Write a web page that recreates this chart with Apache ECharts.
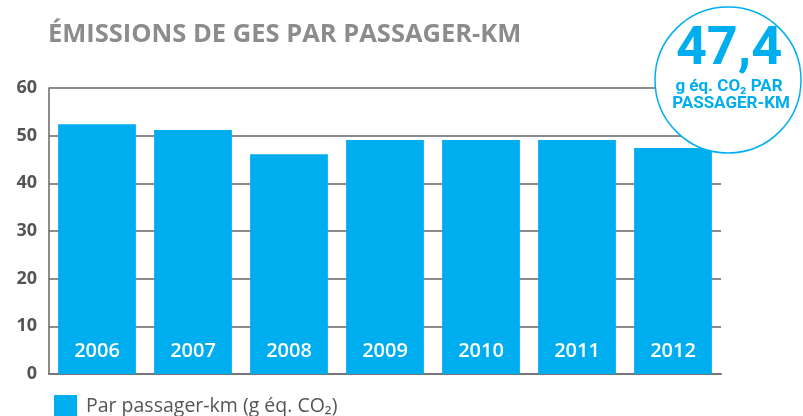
<!DOCTYPE html>
<html>
<head>
<meta charset="utf-8">
<script src="https://cdn.jsdelivr.net/npm/echarts@6/dist/echarts.min.js"></script>
<style>
  html, body { margin: 0; padding: 0; background: #fff; }
  #chart { width: 803px; height: 416px; }
</style>
</head>
<body>
<div id="chart"></div>
<script>
// data
const years = ['2006', '2007', '2008', '2009', '2010', '2011', '2012'];
const perPassengerKm = [52.4, 51.2, 46.1, 49.1, 49.1, 49.1, 47.4];
const yTicks = [0, 10, 20, 30, 40, 50, 60];
const highlight = '47,4';

const blue = '#00AEEF';
const chart = echarts.init(document.getElementById('chart'));

const option = {
    animation: false,
    title: {
        text: 'ÉMISSIONS DE GES PAR PASSAGER-KM',
        left: 43,
        top: 17,
        textStyle: {
            fontFamily: 'Open Sans',
            fontWeight: 'bold',
            fontSize: 25.5,
            color: '#8c8c8c'
        }
    },
    legend: {
        left: 49,
        top: 390,
        itemWidth: 23,
        itemHeight: 22,
        itemGap: 10,
        icon: 'rect',
        textStyle: {
            fontFamily: 'Open Sans',
            fontSize: 19.5,
            color: '#555',
            padding: [0, 0, 0, 4]
        }
    },
    grid: {
        left: 49,
        right: 82,
        top: 88,
        bottom: 42
    },
    xAxis: {
        type: 'category',
        data: years,
        axisLine: { lineStyle: { color: '#777', width: 2 } },
        axisTick: { show: false },
        axisLabel: { show: false }
    },
    yAxis: {
        type: 'value',
        min: yTicks[0],
        max: yTicks[yTicks.length - 1],
        interval: 10,
        axisLine: { show: true, lineStyle: { color: '#666', width: 1.5 } },
        axisTick: { show: false },
        axisLabel: {
            margin: 12,
            fontFamily: 'Open Sans',
            fontWeight: 'bold',
            fontSize: 18,
            color: '#555'
        },
        splitLine: { lineStyle: { color: '#666', width: 1.5 } }
    },
    series: [
        {
            name: 'Par passager-km (g éq. CO₂)',
            type: 'bar',
            data: perPassengerKm,
            barCategoryGap: '19%',
            itemStyle: { color: blue },
            label: {
                show: true,
                position: 'insideBottom',
                distance: 13,
                formatter: p => years[p.dataIndex],
                fontFamily: 'Open Sans',
                fontWeight: 600,
                fontSize: 20,
                color: '#fff'
            }
        }
    ],
    graphic: [
        {
            type: 'circle',
            z: 100,
            shape: { cx: 728, cy: 80, r: 73 },
            style: { fill: '#fff', stroke: blue, lineWidth: 1.5 }
        },
        {
            type: 'text',
            z: 101,
            x: 729, y: 50,
            style: {
                text: highlight,
                align: 'center',
                verticalAlign: 'middle',
                fill: blue,
                fontFamily: 'Roboto',
                fontWeight: 'bold',
                fontSize: 54
            }
        },
        {
            type: 'text',
            z: 101,
            x: 729, y: 87,
            style: {
                text: 'g éq. CO₂ PAR',
                align: 'center',
                verticalAlign: 'middle',
                fill: blue,
                fontFamily: 'Roboto',
                fontWeight: 'bold',
                fontSize: 17
            }
        },
        {
            type: 'text',
            z: 101,
            x: 731, y: 104,
            style: {
                text: 'PASSAGER-KM',
                align: 'center',
                verticalAlign: 'middle',
                fill: blue,
                fontFamily: 'Roboto',
                fontWeight: 'bold',
                fontSize: 17
            }
        }
    ]
};

chart.setOption(option);
</script>
</body>
</html>
